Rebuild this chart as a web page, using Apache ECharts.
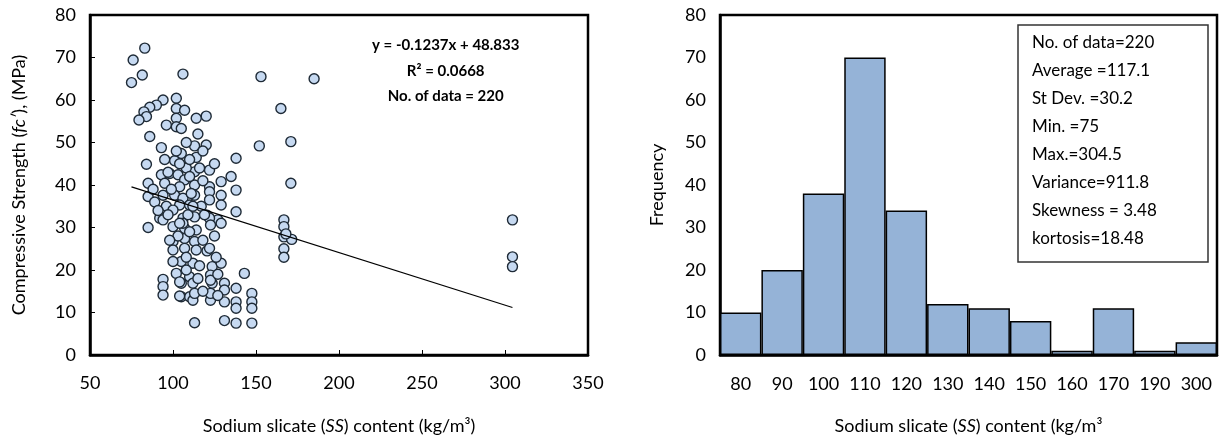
<!DOCTYPE html>
<html>
<head>
<meta charset="utf-8">
<script src="https://cdn.jsdelivr.net/npm/echarts@6/dist/echarts.min.js"></script>
<style>
 html, body { margin: 0; padding: 0; background: #fff; }
 #main { width: 1225px; height: 440px; }
</style>
</head>
<body>
<div id="main"></div>
<script>
// scatter: [SS content, fc']
var scatterPoints = [
 [76,69.4],[83,72.2],[81.5,65.9],[75,64.1],[106,66.1],[153,65.5],[185,65],[165,58],
 [94,60],[102,60.4],[90,58.8],[86,58.3],[82.5,57.2],[102,58],[107,57.6],[84,56.1],[79.5,55.3],
 [120,56.2],[114,55.7],[102,55.7],[96,54.1],[102,53.7],[105,53.3],[86,51.4],
 [93,48.8],[113,49.2],[120,49.4],[152,49.2],[171,50.2],[105,47.4],[138,46.3],[95,46],[101,45.7],
 [114,46.5],[84,44.9],[113,43.1],[122,43.5],[93,42.4],[98,42.7],[103,42.4],[107,41.2],[85,40.4],
 [95,40.4],[104,39.6],[113,40],[122,39.6],[129,40.8],[171,40.4],[138,38.8],[85,37.3],[94,37.6],
 [101,37.6],[113,37.6],[122,38.4],[129,37.6],[106,36.9],[122,36.5],[96,35],[104,35.3],[110,35.3],
 [117,35],[129,35.3],[138,33.7],[92,32.2],[100,34.1],[106,32.2],[113,32.5],[120.5,32.9],[127,31.8],
 [122,32.2],[85,30],[100,30.2],[107,29.8],[114,29.4],[122.6,30.6],[129,31],[94,31.8],
 [166.8,31.8],[166.8,30.2],[166.8,27.8],[171.5,27.2],[168,28.5],[166.8,25],[166.8,23],
 [304.5,31.8],[304.5,23.1],[304.5,20.8],
 [100,26.7],[107,27.4],[113,26.7],[100,24.7],[107,25.1],[114,24.7],[120.5,24.5],[122,25.1],
 [105,22],[112,21.6],[123.6,20.8],[129,21.6],[143,19.2],[102,19.2],[110,18.4],[122.6,18.8],
 [94,17.8],[94,16.1],[94,14.1],[105,16.9],[112,16.9],[123.6,16.9],[131,16.9],[131,15.3],[138,15.7],
 [147.5,14.5],[105,13.7],[110,13.7],[112,12.9],[122.6,12.9],[122.6,14.5],[131,12.5],[138,12.5],
 [138,11],[147.5,12.5],[147.5,11],[113,7.6],[131,8.1],[138,7.5],[147.5,7.5],[104,17.2],[104,13.9],
 [113,14.5],[122.6,17.6],
 [108,44],[110,42],[111,38],[109,33],[103,28],[108,23],[118,27],[116,21],[97,43],[99,39],[88,39],
 [89,36],[91,34],[97,33],[104,45],[118,41],[116,44],[110,46],[106,31],[112,35],[119,33],[125,28],
 [126,23],[98,27],[115,52],[108,50],[125,45],[102,48],[118,48],[135,42],[110,29],[104,31],[100,22],
 [115,18],[118,15],[127,14],[127,19],[108,20]
];
var trendSlope = -0.1237;
var trendIntercept = 48.833;
var fitLines = ['y = -0.1237x + 48.833', 'R\u00b2 = 0.0668', 'No. of data = 220'];

// histogram of SS content
var binLabels = ['80', '90', '100', '110', '120', '130', '140', '150', '160', '170', '190', '300'];
var frequency = [10, 20, 38, 70, 34, 12, 11, 8, 1, 11, 1, 3];
var statsLines = ['No. of data=220', 'Average =117.1', 'St Dev. =30.2', 'Min. =75',
 'Max.=304.5', 'Variance=911.8', 'Skewness = 3.48', 'kortosis=18.48'];

var font = 'Lato, "Open Sans", sans-serif';

var xs = scatterPoints.map(function (p) { return p[0]; });
var xMin = Math.min.apply(null, xs), xMax = Math.max.apply(null, xs);
var trendData = [[xMin, trendSlope * xMin + trendIntercept], [xMax, trendSlope * xMax + trendIntercept]];

var chart = echarts.init(document.getElementById('main'));

var tickLabel = { color: '#000', fontSize: 18, fontFamily: font };
var titleRich = {
 it: { fontStyle: 'italic', fontSize: 18, fontFamily: font, color: '#000' }
};
var titleStyle = { fontSize: 18, color: '#000', fontFamily: font, rich: titleRich };

var option = {
 animation: false,
 textStyle: { fontFamily: font },
 grid: [
  { left: 90, right: 637, top: 15, bottom: 84, show: true, borderColor: '#000', borderWidth: 2.5 },
  { left: 720, right: 8, top: 15, bottom: 83, show: true, borderColor: '#000', borderWidth: 2.5 }
 ],
 xAxis: [{
  gridIndex: 0, type: 'value', min: 50, max: 350, interval: 50,
  axisLine: { lineStyle: { color: '#000', width: 2.5 } },
  axisTick: { inside: true, length: 5, lineStyle: { color: '#000' } },
  axisLabel: Object.assign({ margin: 19 }, tickLabel),
  splitLine: { show: false },
  name: 'Sodium slicate ({it|SS}) content (kg/m\u00b3)',
  nameLocation: 'middle', nameGap: 62, nameTextStyle: titleStyle
 }, {
  gridIndex: 1, type: 'category', data: binLabels,
  axisLine: { lineStyle: { color: '#000', width: 2.5 } },
  axisTick: { show: false },
  axisLabel: Object.assign({ margin: 20, interval: 0 }, tickLabel),
  name: 'Sodium slicate ({it|SS}) content (kg/m\u00b3',
  nameLocation: 'middle', nameGap: 62, nameTextStyle: titleStyle
 }],
 yAxis: [{
  gridIndex: 0, type: 'value', min: 0, max: 80, interval: 10,
  axisLine: { lineStyle: { color: '#000', width: 2.5 } },
  axisTick: { inside: true, length: 5, lineStyle: { color: '#000' } },
  axisLabel: Object.assign({ margin: 14 }, tickLabel),
  splitLine: { show: false },
  name: 'Compressive Strength ({it|fc\u2032}), (MPa)',
  nameLocation: 'middle', nameGap: 62, nameTextStyle: titleStyle
 }, {
  gridIndex: 1, type: 'value', min: 0, max: 80, interval: 10,
  axisLine: { show: true, lineStyle: { color: '#000', width: 2.5 } },
  axisTick: { show: false },
  axisLabel: Object.assign({ margin: 14 }, tickLabel),
  splitLine: { show: false },
  name: 'Frequency',
  nameLocation: 'middle', nameGap: 54, nameTextStyle: titleStyle
 }],
 series: [{
  type: 'scatter', xAxisIndex: 0, yAxisIndex: 0,
  data: scatterPoints, symbol: 'circle', symbolSize: 10,
  itemStyle: { color: '#c6d9f1', borderColor: '#1e2a36', borderWidth: 1.4, opacity: 1 },
  z: 3
 }, {
  type: 'line', xAxisIndex: 0, yAxisIndex: 0,
  data: trendData, symbol: 'none',
  lineStyle: { color: '#000', width: 1.2 },
  z: 4
 }, {
  type: 'bar', xAxisIndex: 1, yAxisIndex: 1,
  data: frequency, barCategoryGap: '0%',
  itemStyle: { color: '#95b3d7', borderColor: '#000', borderWidth: 1.5 }
 }],
 graphic: [{
  type: 'group', left: 372, top: 38,
  children: fitLines.map(function (t, i) {
   return {
    type: 'text', x: 89, y: i * 25.5,
    style: { text: t, fill: '#000', font: 'bold 15px ' + font, textAlign: 'center' }
   };
  })
 }, {
  type: 'rect', shape: { x: 1018, y: 25, width: 190, height: 237 },
  style: { fill: '#fff', stroke: '#333', lineWidth: 1.5 }, z: 10
 }, {
  type: 'group', left: 1032, top: 34, z: 11,
  children: statsLines.map(function (t, i) {
   return {
    type: 'text', x: 0, y: i * 28, z: 11,
    style: { text: t, fill: '#000', font: '17px ' + font }
   };
  })
 }]
};

chart.setOption(option);
</script>
</body>
</html>
